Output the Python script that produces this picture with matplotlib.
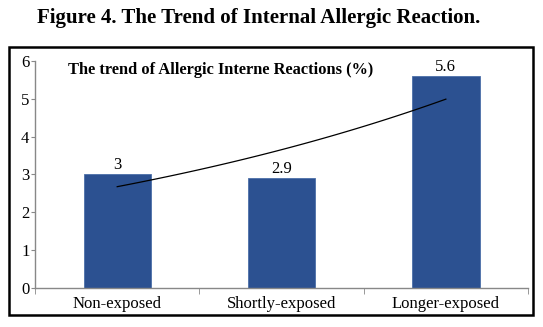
import numpy as np
import matplotlib
matplotlib.use("Agg")
import matplotlib.pyplot as plt
from matplotlib.patches import Rectangle

# Data
groups = ["Non-exposed", "Shortly-exposed", "Longer-exposed"]
values = [3, 2.9, 5.6]
value_labels = ["3", "2.9", "5.6"]
yticks = [0, 1, 2, 3, 4, 5, 6]

plt.rcParams["font.family"] = ["Liberation Serif", "DejaVu Serif"]

fig = plt.figure(figsize=(5.43, 3.27), dpi=100)
ax = fig.add_axes([0.0645, 0.1202, 0.9079, 0.6933])

xpos = np.arange(1, len(groups) + 1)
ax.bar(xpos, values, width=0.41, color="#2C5191", edgecolor="#4C6FA8", linewidth=0.6, zorder=2)

for x, v, lab in zip(xpos, values, value_labels):
    ax.text(x, v + 0.03, lab, ha="center", va="bottom", fontsize=12)

# exponential trendline (like Excel)
coef = np.polyfit(xpos, np.log(values), 1)
xt = np.linspace(xpos[0], xpos[-1], 100)
ax.plot(xt, np.exp(coef[1] + coef[0] * xt), color="black", linewidth=0.9, zorder=3)

ax.set_xlim(0.5, 3.5)
ax.set_ylim(0, 6)
ax.set_yticks(yticks)
ax.set_xticks(xpos)
ax.set_xticklabels(groups, fontsize=12)
ax.set_xticks([0.5, 1.5, 2.5, 3.5], minor=True)
ax.tick_params(axis="x", which="major", length=0, pad=6)
ax.tick_params(axis="x", which="minor", length=4, direction="out", color="#888888")
ax.tick_params(axis="y", length=3, direction="out", color="#888888", labelsize=12, pad=1)

for s in ["top", "right"]:
    ax.spines[s].set_visible(False)
for s in ["left", "bottom"]:
    ax.spines[s].set_color("#888888")
    ax.spines[s].set_linewidth(1.0)

ax.text(0.067, 0.96, "The trend of Allergic Interne Reactions (%)", transform=ax.transAxes,
        fontsize=11.8, fontweight="bold", ha="left", va="center")

fig.text(0.476, 0.945, "Figure 4. The Trend of Internal Allergic Reaction.", ha="center", va="center",
         fontsize=15, fontweight="bold")

fig.patches.append(Rectangle((0.0166, 0.0367), 0.965, 0.8196, transform=fig.transFigure,
                             fill=False, edgecolor="black", linewidth=1.8))

fig.savefig("out.png", dpi=100)
